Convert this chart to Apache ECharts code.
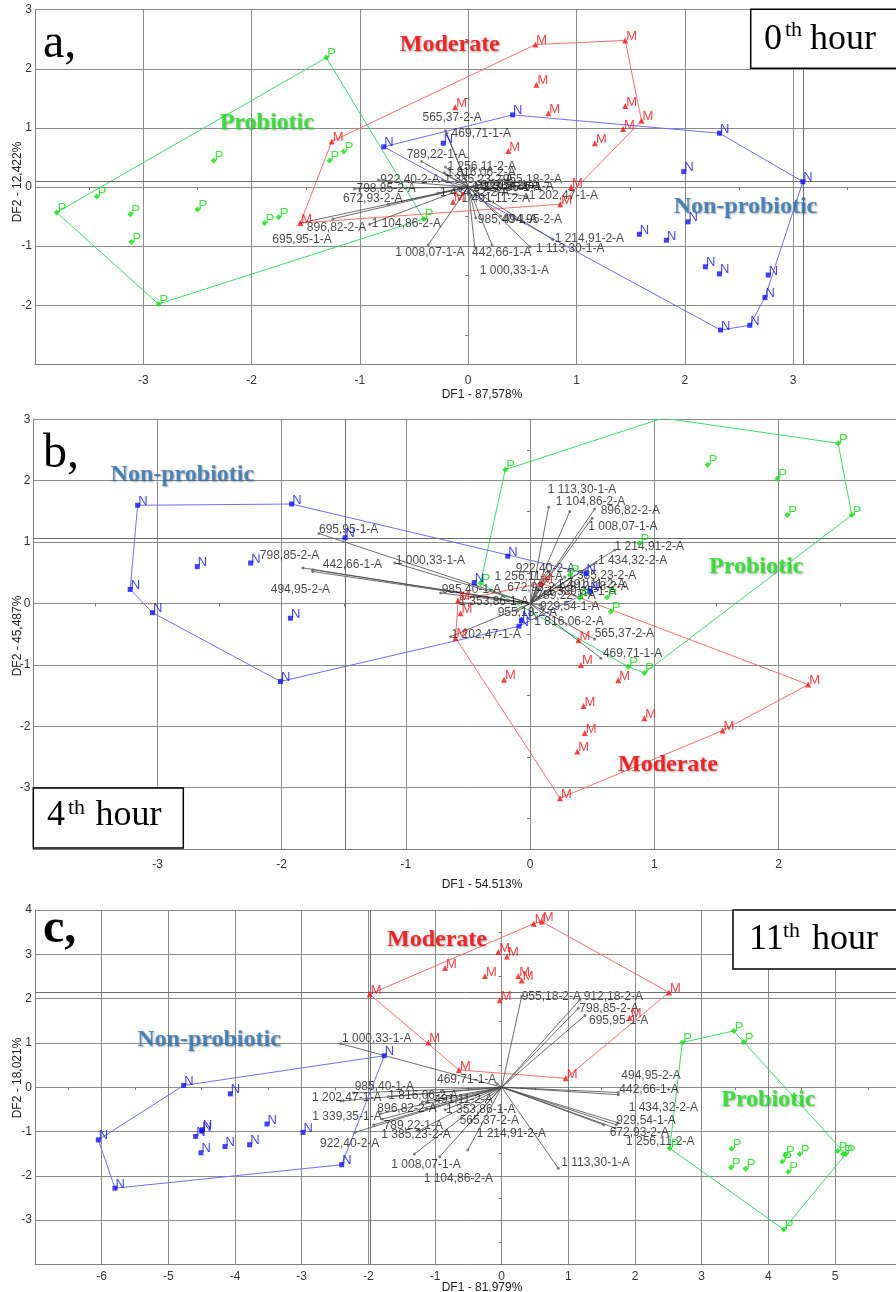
<!DOCTYPE html>
<html><head><meta charset="utf-8">
<script src="https://cdn.jsdelivr.net/npm/echarts@6/dist/echarts.min.js"></script>
<style>html,body{margin:0;padding:0;background:#fff}#c{width:896px;height:1292px}</style>
</head><body><div id="c"></div>
<script>
// ---------- DATA ----------
const varNames = ['1 000,33-1-A','985,40-1-A','1 202,47-1-A','1 816,06-2-A','1 491,11-2-A','896,82-2-A','1 339,35-1-A','1 353,86-1-A','789,22-1-A','1 385,23-2-A','922,40-2-A','565,37-2-A','1 214,91-2-A','1 008,07-1-A','1 104,86-2-A','1 113,30-1-A','469,71-1-A','955,18-2-A','912,18-2-A','798,85-2-A','695,95-1-A','494,95-2-A','442,66-1-A','1 434,32-2-A','929,54-1-A','672,93-2-A','1 256,11-2-A'];
const groupNames = ['Probiotic','Moderate','Non-probiotic'];

// Panel a (0th hour)
const a_P = [[-3.80,-0.43],[-3.43,-0.16],[-3.12,-0.46],[-3.11,-0.93],[-2.86,-1.98],[-2.50,-0.38],[-2.35,0.45],[-1.88,-0.61],[-1.75,-0.51],[-1.31,2.19],[-1.28,0.45],[-1.15,0.60],[-0.41,-0.54]];
const a_M = [[-1.26,0.77],[-1.55,-0.61],[0.62,2.41],[1.45,2.48],[0.63,1.73],[-0.12,1.35],[0.74,1.25],[1.45,1.37],[1.60,1.12],[1.43,0.98],[1.17,0.74],[0.37,0.61],[0.95,0.00],[0.85,-0.29],[-0.14,-0.25]];
const a_N = [[-0.78,0.68],[-0.23,0.74],[0.41,1.22],[2.32,0.91],[3.09,0.09],[1.99,0.26],[2.03,-0.59],[1.58,-0.80],[1.83,-0.90],[2.19,-1.35],[2.32,-1.47],[2.77,-1.49],[2.74,-1.87],[2.60,-2.34],[2.33,-2.42]];
const a_vec = [[0.06,-1.01],[0.07,-0.52],[0.54,-0.16],[-0.22,0.24],[-0.08,-0.20],[-1.25,-0.54],[0.02,-0.02],[0.13,0.00],[-0.43,0.43],[-0.24,0.12],[-0.83,0.12],[-0.21,0.95],[0.78,-0.89],[-0.37,-0.98],[-0.91,-0.63],[0.57,-1.01],[-0.20,0.91],[0.30,0.12],[0.05,0.02],[-1.05,-0.03],[-1.55,-0.61],[0.30,-0.49],[0.22,-0.98],[-0.28,-0.10],[0.09,0.02],[-0.74,-0.29],[-0.21,0.34]];
const a_ref = [3.09, 0.085];

// Panel b (4th hour)
const b_P = [[1.07,3.02],[2.48,2.61],[2.59,1.44],[1.43,2.26],[1.99,2.03],[2.07,1.44],[-0.20,2.18],[0.88,0.98],[-0.40,0.33],[0.62,0.10],[0.65,-0.13],[0.79,-1.03],[0.92,-1.13],[0.32,0.47],[0.40,0.09]];
const b_M = [[-0.58,0.05],[-0.56,-0.16],[-0.60,-0.56],[-0.21,-1.24],[0.39,-0.60],[0.41,-1.00],[0.71,-1.25],[0.43,-1.67],[0.44,-2.11],[0.38,-2.41],[0.92,-1.87],[2.24,-1.32],[1.55,-2.07],[0.24,-3.17],[0.09,0.33]];
const b_N = [[-3.16,1.60],[-1.92,1.62],[-3.22,0.23],[-3.04,-0.15],[-2.68,0.60],[-2.25,0.66],[-1.93,-0.24],[-2.01,-1.27],[-1.49,1.07],[-0.18,0.77],[-0.45,0.34],[0.45,0.49],[0.48,0.20],[-0.07,-0.28],[-0.09,-0.37]];
const b_vec = [[-1.09,0.66],[-0.72,0.17],[-0.64,-0.54],[0.05,-0.25],[0.20,0.30],[0.52,1.54],[0.12,0.20],[-0.57,0.01],[0.05,0.12],[0.28,0.43],[0.15,0.52],[0.52,-0.58],[0.68,0.87],[0.50,1.39],[0.32,1.50],[0.15,1.57],[0.57,-0.89],[-0.10,-0.12],[0.30,0.28],[-1.83,0.58],[-1.70,1.14],[-1.75,0.55],[-1.75,0.52],[0.53,0.66],[0.08,-0.03],[0.05,0.25],[0.10,0.40]];
const b_ref = [-1.49, 1.07];

// Panel c (11th hour)
const c_P = [[2.71,1.01],[3.48,1.27],[3.63,1.02],[2.52,-1.38],[4.23,-3.21],[5.04,-1.44],[5.12,-1.51],[5.16,-1.51],[3.45,-1.39],[3.44,-1.81],[3.66,-1.84],[4.25,-1.53],[4.21,-1.68],[4.47,-1.51],[4.30,-1.91]];
const c_M = [[-1.98,2.10],[-1.10,1.01],[-0.85,2.69],[0.48,3.69],[0.60,3.74],[-0.05,3.05],[0.08,2.95],[-0.25,2.51],[0.25,2.51],[0.30,2.41],[-0.03,1.96],[2.51,2.14],[1.92,1.57],[-0.64,0.39],[0.96,0.20]];
const c_N = [[-1.76,0.71],[-4.77,0.04],[-6.05,-1.19],[-5.80,-2.28],[-2.40,-1.75],[-4.07,-0.15],[-3.52,-0.83],[-2.98,-1.02],[-4.59,-1.11],[-4.50,-0.99],[-4.49,-0.96],[-4.51,-1.48],[-4.15,-1.34],[-3.78,-1.30]];
const c_vec = [[-2.41,0.98],[-2.22,-0.13],[-2.41,-0.31],[-1.70,-0.21],[-1.19,-0.33],[-1.82,-0.60],[-1.79,-0.72],[-0.85,-0.51],[-1.92,-0.85],[-1.25,-0.99],[-2.20,-1.02],[-0.45,-0.75],[-0.51,-1.42],[-1.31,-1.51],[-0.93,-1.57],[0.85,-1.83],[-0.07,0.08],[0.30,2.05],[1.17,1.97],[1.15,1.78],[1.25,1.62],[1.75,-0.12],[1.75,-0.17],[1.74,-0.80],[1.72,-0.85],[1.53,-0.85],[1.70,-0.92]];
const c_ref = [-1.97, 2.15];

const axisTitles = [
  ['DF1 - 87,578%','DF2 - 12,422%'],
  ['DF1 - 54.513%','DF2 - 45,487%'],
  ['DF1 - 81.979%','DF2 - 18,021%']
];
const hourLabels = [['0','th','hour'],['4','th','hour'],['11','th','hour']];
const panelLetters = ['a,','b,','c,'];

// ---------- LAYOUT (pixels / label placement, not data) ----------
const a_lblOff = [[5,24],[2,2],[2,-1],[2,0],[2,0],[-26,9],[2,0],[2,0],[-15,-7],[2,0],[2,0],[-23,-13],[2,-1],[-33,8],[2,-1],[6,2],[5,0],[2,0],[2,0],[2,0],[-28,17],[2,4],[-20,8],[2,0],[2,0],[-45,-5],[2,0]];
const b_lblOff = [[1,-2],[1,-3],[1,-2],[-2,3],[2,0],[6,2],[2,0],[0,-1],[0,0],[2,-1],[-33,-3],[0,-5],[0,-3],[-4,9],[-14,-10],[-1,-17],[2,-4],[-20,2],[2,0],[-43,-12],[0,-4],[-42,20],[10,-7],[2,-2],[0,1],[-29,0],[-48,-2]];
const c_lblOff = [[1,-5],[1,-6],[-29,-3],[0,-1],[2,-2],[-3,-5],[-70,-2],[1,0],[10,1],[-37,4],[-35,11],[-12,0],[9,-16],[-23,11],[-16,22],[3,-6],[-60,-4],[0,0],[4,-3],[1,0],[4,5],[3,-17],[1,-5],[11,-15],[0,-4],[6,8],[11,14]];
const a_grpPos = [[-1.86,1.08],[-0.17,2.40],[2.56,-0.33]];
const b_grpPos = [[1.82,0.60],[1.11,-2.63],[-2.80,2.10]];
const c_grpPos = [[4.00,-0.29],[-0.97,3.33],[-4.39,1.07]];

const SANS = '"Liberation Sans", Arial, sans-serif';
const SERIF = '"Liberation Serif", "Times New Roman", serif';

const panels = [
  {P:a_P,M:a_M,N:a_N,vec:a_vec,off:a_lblOff,ref:a_ref,grp:a_grpPos,
   grid:{left:35,top:9.7,width:861,height:354.6}, x:[-4,3.95], y:[-3,3], xVis:[-3,3], yVis:[-2,3], xMargin:10,
   xName:[482,395], yName:[18,182],
   letter:[43,44], box:{x:750.7,y:9.3,w:170,h:59}, hour:{n:[764,39.5],th:[785,30.5],h:[810,39.5]}},
  {P:b_P,M:b_M,N:b_N,vec:b_vec,off:b_lblOff,ref:b_ref,grp:b_grpPos,
   grid:{left:33.3,top:419.3,width:862.7,height:429.8}, x:[-4,2.946], y:[-4,3], xVis:[-3,2], yVis:[-3,3], xMargin:10,
   xName:[482,885], yName:[18,636],
   letter:[43,454], box:{x:33.3,y:788,w:150,h:60}, hour:{n:[47,816], th:[68,808.5], h:[95.5,816]}},
  {P:c_P,M:c_M,N:c_N,vec:c_vec,off:c_lblOff,ref:c_ref,grp:c_grpPos,
   grid:{left:35,top:910,width:861,height:354.4}, x:[-7,5.915], y:[-4,4], xVis:[-6,5], yVis:[-3,4], xMargin:6,
   xName:[482,1288], yName:[18,1078],
   letter:[43,930], box:{x:733,y:910,w:180,h:59}, hour:{n:[749,940], th:[783,931], h:[812,940]}}
];

const GROUPS = [
  {key:'P', color:'#10e010', hull:'#3fdc70', symbol:'diamond', size:6, text:'#18e818'},
  {key:'M', color:'#ff1010', hull:'#ff6f6f', symbol:'triangle', size:6, text:'#ff0000'},
  {key:'N', color:'#1010ff', hull:'#7070ff', symbol:'rect', size:5, text:'#2e74b5'}
];

function convexHull(pts){
  const p = pts.slice().sort((a,b)=>a[0]-b[0]||a[1]-b[1]);
  const cross=(o,a,b)=>(a[0]-o[0])*(b[1]-o[1])-(a[1]-o[1])*(b[0]-o[0]);
  const lo=[];for(const q of p){while(lo.length>=2&&cross(lo[lo.length-2],lo[lo.length-1],q)<=0)lo.pop();lo.push(q);}
  const up=[];for(let i=p.length-1;i>=0;i--){const q=p[i];while(up.length>=2&&cross(up[up.length-2],up[up.length-1],q)<=0)up.pop();up.push(q);}
  up.pop();lo.pop();const h=lo.concat(up);h.push(h[0]);return h;
}
function fmt(vis){return v=>{ if(Math.abs(v-Math.round(v))>1e-6) return ''; if(v<vis[0]-1e-6||v>vis[1]+1e-6) return ''; return String(Math.round(v)); };}

const grids=[], xAxis=[], yAxis=[], series=[], graphic=[];
const GRIDCOL='#8c8c8c';
panels.forEach((p,i)=>{
  grids.push(Object.assign({containLabel:false, outerBoundsMode:'none'}, p.grid));
  xAxis.push({gridIndex:i,type:'value',min:p.x[0],max:p.x[1],interval:1,position:'bottom',
    axisLine:{onZero:false,lineStyle:{color:'#808080',width:1}},axisTick:{show:false},
    splitLine:{show:true,showMaxLine:false,lineStyle:{color:GRIDCOL,width:1}},
    axisLabel:{margin:p.xMargin,fontSize:12,color:'#333',fontFamily:SANS,formatter:fmt(p.xVis)}});
  xAxis.push({gridIndex:i,type:'value',min:p.x[0],max:p.x[1],interval:0.5,position:'bottom',
    axisLine:{show:false,onZero:true},axisTick:{show:true,length:3,lineStyle:{color:'#777'}},
    axisLabel:{show:false},splitLine:{show:false}});
  yAxis.push({gridIndex:i,type:'value',min:p.y[0],max:p.y[1],interval:1,position:'left',
    axisLine:{onZero:false,lineStyle:{color:'#808080',width:1}},axisTick:{show:false},
    splitLine:{show:true,lineStyle:{color:GRIDCOL,width:1}},
    axisLabel:{margin:3,fontSize:12,color:'#333',fontFamily:SANS,formatter:fmt(p.yVis),padding:[4,0,0,0]}});
  yAxis.push({gridIndex:i,type:'value',min:p.y[0],max:p.y[1],interval:0.5,position:'left',
    axisLine:{show:false,onZero:true},axisTick:{show:true,length:3,lineStyle:{color:'#777'}},
    axisLabel:{show:false},splitLine:{show:false}});
  const xi=2*i, yi=2*i;
  const pts=[p.P,p.M,p.N];
  GROUPS.forEach((g,gi)=>{
    const s={type:'line',xAxisIndex:xi,yAxisIndex:yi,data:convexHull(pts[gi]),symbol:'none',
      lineStyle:{color:g.hull,width:1},z:2,silent:true,animation:false};
    if(gi===0){ s.markLine={silent:true,symbol:['none','none'],label:{show:false},animation:false,
      lineStyle:{color:'#6f6f6f',width:1,type:'solid'},data:[{xAxis:p.ref[0]},{yAxis:p.ref[1]}]}; }
    series.push(s);
  });
  series.push({type:'lines',coordinateSystem:'cartesian2d',xAxisIndex:xi,yAxisIndex:yi,
    data:p.vec.map(v=>({coords:[[0,0],v]})),lineStyle:{color:'#4a4a4a',width:0.8,opacity:1},z:3,silent:true,animation:false});
  series.push({type:'scatter',xAxisIndex:xi,yAxisIndex:yi,symbol:'circle',symbolSize:3,itemStyle:{color:'#666'},
    data:p.vec.map((v,k)=>({name:varNames[k],value:v,label:{position:[p.off[k][0]+1.5,p.off[k][1]+1.5]}})),
    label:{show:true,formatter:'{b}',align:'left',verticalAlign:'middle',fontSize:12,fontFamily:SANS,color:'#1a1a1a'},
    z:4,silent:true,animation:false});
  GROUPS.forEach((g,gi)=>{
    series.push({type:'scatter',xAxisIndex:xi,yAxisIndex:yi,data:pts[gi],symbol:g.symbol,symbolSize:g.size,
      itemStyle:{color:g.color},label:{show:true,formatter:g.key,position:'right',distance:0,offset:[-2,-4],
      color:g.color,fontSize:13,fontFamily:SANS},z:5,silent:true,animation:false});
  });
  series.push({type:'scatter',xAxisIndex:xi,yAxisIndex:yi,symbolSize:1,itemStyle:{color:'rgba(0,0,0,0)'},
    data:p.grp.map((v,k)=>({name:groupNames[k],value:v,label:{color:GROUPS[k].text}})),
    label:{show:true,position:'inside',formatter:'{b}',fontFamily:SERIF,fontWeight:'bold',fontSize:24,
      textShadowColor:'rgba(0,0,0,0.45)',textShadowBlur:2,textShadowOffsetX:1,textShadowOffsetY:1},
    z:6,silent:true,animation:false});

  graphic.push({type:'text',x:p.xName[0],y:p.xName[1],z:50,style:{text:axisTitles[i][0],font:'12px '+SANS,fill:'#222',textAlign:'center',textVerticalAlign:'middle'}});
  graphic.push({type:'text',x:p.yName[0],y:p.yName[1],rotation:Math.PI/2,z:50,style:{text:axisTitles[i][1],font:'12px '+SANS,fill:'#222',textAlign:'center',textVerticalAlign:'middle'}});
  graphic.push({type:'text',x:p.letter[0],y:p.letter[1],z:50,style:{text:panelLetters[i],font:(i===2?'bold ':'')+'48px '+SERIF,fill:'#000',textAlign:'left',textVerticalAlign:'middle'}});
  graphic.push({type:'rect',z:60,shape:{x:p.box.x,y:p.box.y,width:p.box.w,height:p.box.h},style:{fill:'#fff',stroke:'#000',lineWidth:1.5}});
  graphic.push({type:'text',z:61,x:p.hour.n[0],y:p.hour.n[1],style:{text:hourLabels[i][0],font:'36px '+SERIF,fill:'#000',textAlign:'left',textVerticalAlign:'middle'}});
  graphic.push({type:'text',z:61,x:p.hour.th[0],y:p.hour.th[1],style:{text:hourLabels[i][1],font:'22px '+SERIF,fill:'#000',textAlign:'left',textVerticalAlign:'middle'}});
  graphic.push({type:'text',z:61,x:p.hour.h[0],y:p.hour.h[1],style:{text:hourLabels[i][2],font:'36px '+SERIF,fill:'#000',textAlign:'left',textVerticalAlign:'middle'}});
});

const chart = echarts.init(document.getElementById('c'), null, {renderer:'canvas'});
chart.setOption({backgroundColor:'#fff',animation:false,grid:grids,xAxis,yAxis,series,graphic});
</script>
</body></html>
